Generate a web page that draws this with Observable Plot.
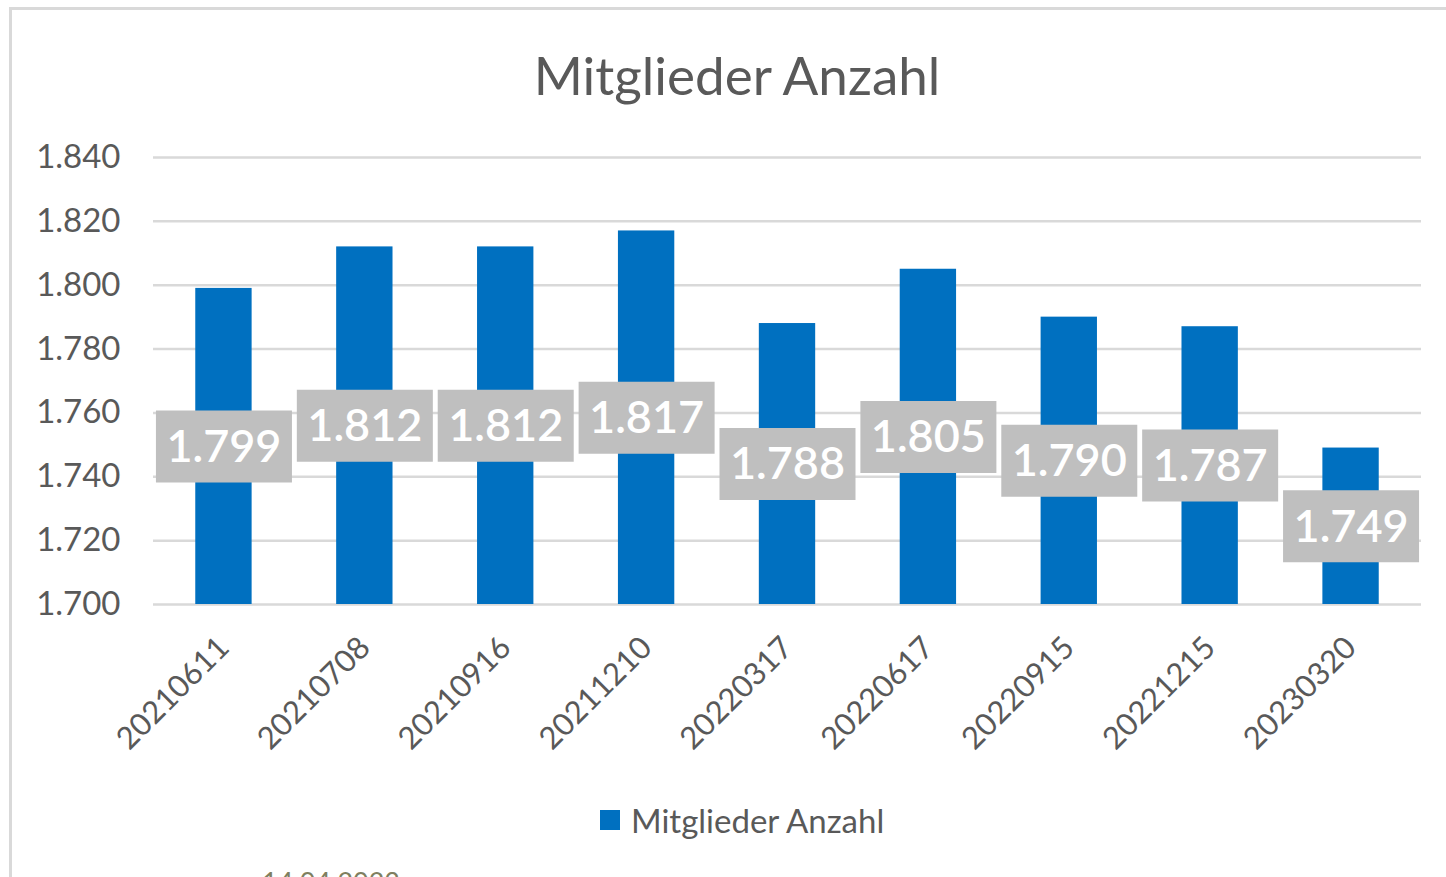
<!DOCTYPE html>
<html>
<head>
<meta charset="utf-8">
<script src="https://cdn.jsdelivr.net/npm/d3@7"></script>
<script src="https://cdn.jsdelivr.net/npm/@observablehq/plot@0.6"></script>
<style>
  html, body { margin: 0; padding: 0; background: #fff; overflow: hidden; width: 1446px; height: 877px; }
  #wrap { position: relative; width: 1446px; height: 877px; }
  #frame { position: absolute; left: 9px; top: 7px; right: -10px; bottom: -10px; border-left: 3px solid #d9d9d9; border-top: 3px solid #d9d9d9; }
  #title { position: absolute; left: 0; width: 1474px; top: 43px; text-align: center; font-family: Lato, sans-serif; font-size: 53px; color: #595959; }
  #legend { position: absolute; left: 600px; top: 800px; font-family: Lato, sans-serif; font-size: 33px; color: #595959; display: flex; align-items: center; }
  #legend .sw { width: 20px; height: 20px; background: #0070C0; margin-right: 11px; }
  #chart { position: absolute; left: 0; top: 0; }
  #note { position: absolute; left: 262px; top: 865px; font-family: Lato, sans-serif; font-size: 27px; color: #7f7f60; }
</style>
</head>
<body>
<div id="wrap">
  <div id="frame"></div>
  <div id="chart"></div>
  <div id="title">Mitglieder Anzahl</div>
  <div id="legend"><div class="sw"></div><span>Mitglieder Anzahl</span></div>
  <div id="note">14.04.2023</div>
</div>
<script>
const dates = ["20210611","20210708","20210916","20211210","20220317","20220617","20220915","20221215","20230320"];
const members = [1799, 1812, 1812, 1817, 1788, 1805, 1790, 1787, 1749];
const yTicks = [1700, 1720, 1740, 1760, 1780, 1800, 1820, 1840];

const de = d3.formatLocale({decimal: ",", thousands: ".", grouping: [3], currency: ["", " €"]});
const fmt = de.format(",");
const data = dates.map((d, i) => ({date: d, value: members[i]}));
const base = yTicks[0];

const boxSymbol = { draw(ctx) { ctx.moveTo(-68, -36); ctx.lineTo(68, -36); ctx.lineTo(68, 36); ctx.lineTo(-68, 36); ctx.closePath(); } };

const chart = Plot.plot({
  width: 1446,
  height: 877,
  marginLeft: 153,
  marginRight: 25,
  marginTop: 157,
  marginBottom: 273,
  style: { fontFamily: "Lato, sans-serif", fontSize: "33px", color: "#595959", background: "transparent", overflow: "visible" },
  x: { domain: dates, paddingInner: 0.6, paddingOuter: 0.3, round: false, label: null },
  y: { domain: [yTicks[0], yTicks[yTicks.length - 1]], label: null },
  marks: [
    Plot.gridY(yTicks, { stroke: "#d9d9d9", strokeOpacity: 1, strokeWidth: 2.5 }),
    Plot.barY(data, { x: "date", y1: () => base, y2: "value", fill: "#0070C0" }),
    Plot.dot(data, { x: "date", y: d => (d.value + base) / 2, symbol: boxSymbol, fill: "#bfbfbf" }),
    Plot.text(data, { x: "date", y: d => (d.value + base) / 2, text: d => fmt(d.value), fill: "white", fontSize: 45, fontWeight: 600, dy: 1 }),
    Plot.axisY({ ticks: yTicks, tickFormat: fmt, tickSize: 0, tickPadding: 33, fill: "#595959", fontSize: 33, label: null }),
    Plot.axisX({ tickSize: 0, tickRotate: -45, tickPadding: 38, fill: "#595959", fontSize: 31, label: null })
  ]
});
document.getElementById("chart").appendChild(chart);
</script>
</body>
</html>
